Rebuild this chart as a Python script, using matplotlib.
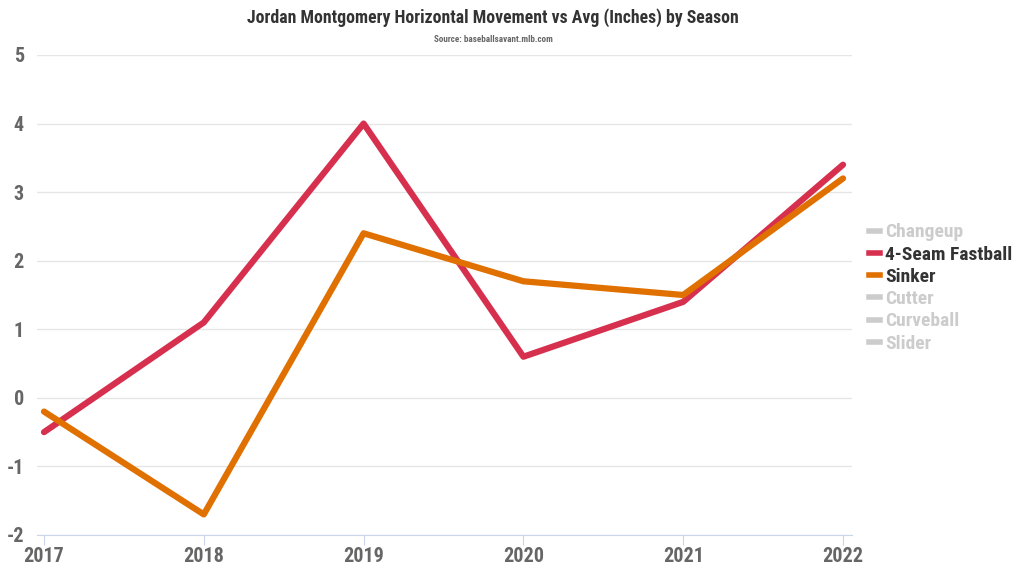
import matplotlib
matplotlib.use('Agg')
import matplotlib.pyplot as plt
from matplotlib.lines import Line2D
from matplotlib import font_manager

seasons = [2017, 2018, 2019, 2020, 2021, 2022]
fastball = [-0.5, 1.1, 4.0, 0.6, 1.4, 3.4]
sinker = [-0.2, -1.7, 2.4, 1.7, 1.5, 3.2]
legend_names = ['Changeup', '4-Seam Fastball', 'Sinker', 'Cutter', 'Curveball', 'Slider']
y_ticks = [-2, -1, 0, 1, 2, 3, 4, 5]

names = sorted({f.name for f in font_manager.fontManager.ttflist if 'Roboto' in f.name})
fam = 'Roboto Condensed' if 'Roboto Condensed' in names else 'Roboto'
plt.rcParams['font.family'] = [fam, 'DejaVu Sans']
plt.rcParams['axes.unicode_minus'] = False

RED = '#d7304f'
ORANGE = '#e07000'
GREY = '#cccccc'
TICK = '#666666'

fig = plt.figure(figsize=(10.24, 5.76), dpi=100)
# plot area 37..852 px wide, 55..535 px tall
ax = fig.add_axes([37/1024, 1 - 535/576, 815/1024, 480/576])

ax.plot(seasons, fastball, color=RED, lw=4.5, solid_capstyle='round', clip_on=False, zorder=3)
ax.plot(seasons, sinker, color=ORANGE, lw=4.5, solid_capstyle='round', clip_on=False, zorder=3)

ax.set_xlim(2017 - 7/159.8, 2022 + 9/159.8)
ax.set_ylim(-2, 5)
ax.set_yticks(y_ticks)
ax.set_xticks(seasons)
ax.grid(axis='y', color='#e6e6e6', lw=1)
ax.set_axisbelow(True)
for s in ['top', 'right', 'left']:
    ax.spines[s].set_visible(False)
ax.spines['bottom'].set_color('#ccd6eb')
ax.tick_params(axis='y', length=0, pad=9.5, labelsize=14.5, labelcolor=TICK)
ax.tick_params(axis='x', length=7, color='#ccd6eb', pad=2, labelsize=14.5, labelcolor=TICK)
for lab in ax.get_xticklabels() + ax.get_yticklabels():
    lab.set_fontweight('bold')

fig.text(493/1024, 1 - 18/576, 'Jordan Montgomery Horizontal Movement vs Avg (Inches) by Season',
         ha='center', va='center', fontsize=12.8, fontweight='bold', color='#333333')
fig.text(493/1024, 1 - 39/576, 'Source: baseballsavant.mlb.com', ha='center', va='center',
         fontsize=6.5, fontweight='bold', color='#666666')

colors = {'4-Seam Fastball': RED, 'Sinker': ORANGE}
handles = [Line2D([], [], color=colors.get(n, GREY), lw=4) for n in legend_names]
leg = ax.legend(handles, legend_names, loc='center left',
                bbox_to_anchor=(869/1024, 1 - 288/576), bbox_transform=fig.transFigure,
                frameon=False, handlelength=0.55, handletextpad=0.28, labelspacing=0.22,
                borderaxespad=0, borderpad=0, prop={'size': 14, 'weight': 'bold'})
for t in leg.get_texts():
    t.set_color('#333333' if t.get_text() in colors else GREY)

fig.savefig('out.png', dpi=100)
